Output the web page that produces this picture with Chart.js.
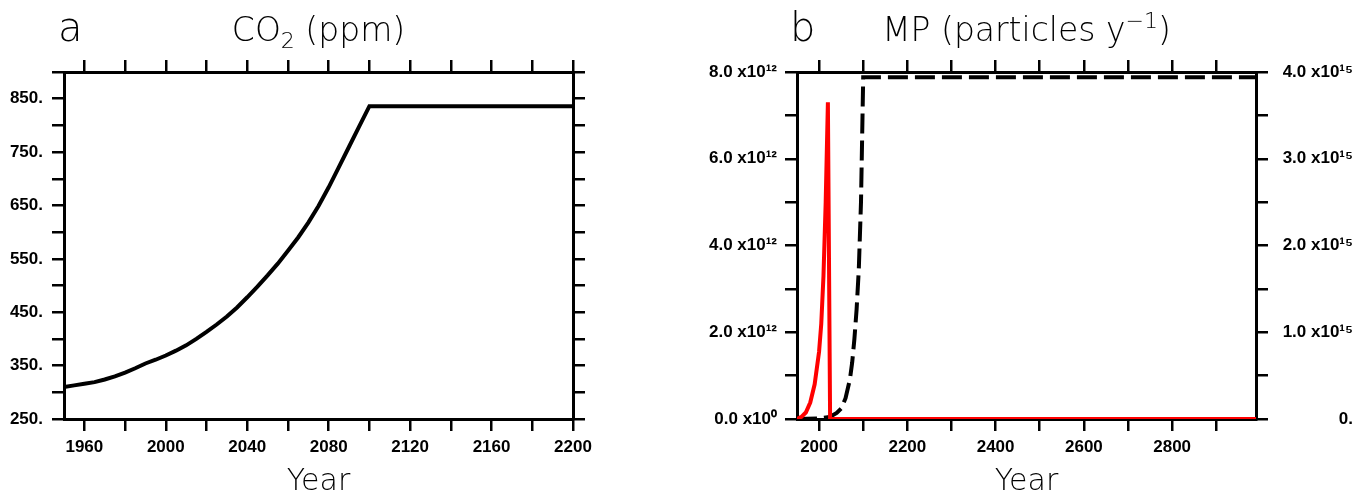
<!DOCTYPE html>
<html>
<head>
<meta charset="utf-8">
<script src="https://cdn.jsdelivr.net/npm/chart.js@4"></script>
<style>
  html, body { margin: 0; padding: 0; background: #fff; }
  #wrap { position: relative; width: 1369px; height: 498px; }
  canvas { position: absolute; top: 0; }
  #co2Chart { left: 0; }
  #mpChart { left: 684px; }
</style>
</head>
<body>
<div id="wrap">
  <canvas id="co2Chart" width="684" height="498"></canvas>
  <canvas id="mpChart" width="685" height="498"></canvas>
</div>
<script>
// panel a: atmospheric CO2
const co2Years = [1950, 1955, 1960, 1965, 1970, 1975, 1980, 1985, 1990, 1995, 2000, 2005, 2010,
  2015, 2020, 2025, 2030, 2035, 2040, 2045, 2050, 2055, 2060, 2065, 2070, 2075, 2080, 2085,
  2090, 2095, 2100, 2200];
const co2Values = [310, 313, 316, 319, 324, 330, 337, 345, 354, 361, 369, 378, 388,
  400, 413, 427, 442, 459, 478, 498, 519, 541, 565, 590, 618, 649, 684, 722,
  760, 798, 836, 836];

const co2YTicks = [250, 300, 350, 400, 450, 500, 550, 600, 650, 700, 750, 800, 850, 900];
const co2YLabels = ['250.', '', '350.', '', '450.', '', '550.', '', '650.', '', '750.', '', '850.', ''];
const co2XTicks = [1960, 1980, 2000, 2020, 2040, 2060, 2080, 2100, 2120, 2140, 2160, 2180, 2200];
const co2XLabels = ['1960', '', '2000', '', '2040', '', '2080', '', '2120', '', '2160', '', '2200'];

// panel b: microplastic emissions (left axis) and cumulative amount (right axis)
const mpYears = [1950, 1960, 1970, 1980, 1990, 2000, 2005, 2010, 2015, 2020, 2025, 2990];
const mpValues = [0, 0.05e12, 0.15e12, 0.38e12, 0.8e12, 1.55e12, 2.2e12, 3.3e12, 5.0e12, 7.3e12, 0, 0];

const cumYears = [1950, 2000, 2020, 2030, 2040, 2050, 2060, 2070, 2075, 2080, 2085, 2090, 2095, 2100, 2990];
const cumValues = [0, 0.005e15, 0.02e15, 0.04e15, 0.07e15, 0.12e15, 0.24e15, 0.46e15, 0.65e15,
  0.92e15, 1.26e15, 1.72e15, 2.5e15, 3.94e15, 3.94e15];

const mpXTicks = [2000, 2100, 2200, 2300, 2400, 2500, 2600, 2700, 2800, 2900];
const mpXLabels = ['2000', '', '2200', '', '2400', '', '2600', '', '2800', ''];
const mpLeftTicks = [0, 1e12, 2e12, 3e12, 4e12, 5e12, 6e12, 7e12, 8e12];
const mpLeftLabels = ['0.0 x10\u2070', '', '2.0 x10\u00b9\u00b2', '', '4.0 x10\u00b9\u00b2', '',
  '6.0 x10\u00b9\u00b2', '', '8.0 x10\u00b9\u00b2'];
const mpRightTicks = [0, 0.5e15, 1e15, 1.5e15, 2e15, 2.5e15, 3e15, 3.5e15, 4e15];
const mpRightLabels = ['0.', '', '1.0 x10\u00b9\u2075', '', '2.0 x10\u00b9\u2075', '',
  '3.0 x10\u00b9\u2075', '', '4.0 x10\u00b9\u2075'];

const FONT = 'DejaVu Sans';
const tickFont = {family: 'Liberation Sans', size: 17, weight: 'bold'};

// panel letter plus a centred title that may carry sub/superscripts
const panelTitles = {
  id: 'panelTitles',
  afterDraw(chart, args, opts) {
    const {ctx, chartArea} = chart;
    ctx.save();
    ctx.fillStyle = '#000';
    ctx.textBaseline = 'alphabetic';
    ctx.textAlign = 'left';
    ctx.font = `${opts.weight} ${opts.letterSize}px "${FONT}"`;
    ctx.fillText(opts.letter, chartArea.left + opts.letterDx, opts.baseline);

    const pieces = opts.pieces.map(p => ({
      text: p.text,
      shift: p.shift,
      font: `${opts.weight} ${p.shift ? opts.smallSize : opts.size}px "${FONT}"`
    }));
    let total = 0;
    pieces.forEach(p => {
      ctx.font = p.font;
      p.w = ctx.measureText(p.text).width;
      total += p.w;
    });
    let x = (chartArea.left + chartArea.right) / 2 - total / 2;
    pieces.forEach(p => {
      ctx.font = p.font;
      ctx.fillText(p.text, x, opts.baseline + p.shift);
      x += p.w;
    });
    ctx.restore();
  }
};

function fixedTicks(values) {
  return scale => {
    scale.ticks = values.map(v => ({value: v}));
  };
}

function axisStyle(extra) {
  return Object.assign({
    grid: {drawOnChartArea: false, color: '#000', lineWidth: 2.5, tickLength: 12},
    border: {display: true, color: '#000', width: 3}
  }, extra);
}

const yearTitle = {display: true, text: 'Year', color: '#000',
  font: {family: FONT, size: 30, weight: 300, lineHeight: 1}, padding: {top: 0, bottom: 1}};

const co2Ctx = document.getElementById('co2Chart');
new Chart(co2Ctx, {
  type: 'line',
  data: {
    datasets: [{
      data: co2Years.map((y, i) => ({x: y, y: co2Values[i]})),
      borderColor: '#000',
      borderWidth: 4,
      pointRadius: 0,
      tension: 0
    }]
  },
  options: {
    responsive: false,
    animation: false,
    devicePixelRatio: 1,
    layout: {padding: 0},
    plugins: {
      legend: {display: false},
      tooltip: {enabled: false},
      panelTitles: {
        letter: 'a', letterSize: 40, letterDx: -6, baseline: 41, weight: 300,
        size: 33, smallSize: 22,
        pieces: [{text: 'CO', shift: 0}, {text: '2', shift: 7}, {text: ' (ppm)', shift: 0}]
      }
    },
    scales: {
      x: axisStyle({
        type: 'linear', position: 'bottom', min: 1950, max: 2200,
        afterBuildTicks: fixedTicks(co2XTicks),
        afterFit: s => { s.height = 79; },
        ticks: {
          autoSkip: false, maxRotation: 0, padding: 6, color: '#000', font: tickFont,
          callback: (v, i) => co2XLabels[i]
        },
        title: yearTitle
      }),
      xTop: axisStyle({
        type: 'linear', position: 'top', min: 1950, max: 2200,
        afterBuildTicks: fixedTicks(co2XTicks),
        afterFit: s => { s.height = 72; },
        ticks: {autoSkip: false, maxRotation: 0, callback: () => ''}
      }),
      y: axisStyle({
        type: 'linear', position: 'left', min: 250, max: 900,
        afterBuildTicks: fixedTicks(co2YTicks),
        afterFit: s => { s.width = 64; },
        ticks: {
          autoSkip: false, padding: 9, color: '#000', font: tickFont,
          callback: (v, i) => co2YLabels[i]
        }
      }),
      yRight: axisStyle({
        type: 'linear', position: 'right', min: 250, max: 900,
        afterBuildTicks: fixedTicks(co2YTicks),
        afterFit: s => { s.width = 111; },
        ticks: {autoSkip: false, callback: () => ''}
      })
    }
  },
  plugins: [panelTitles]
});

const mpCtx = document.getElementById('mpChart');
new Chart(mpCtx, {
  type: 'line',
  data: {
    datasets: [{
      data: mpYears.map((y, i) => ({x: y, y: mpValues[i]})),
      yAxisID: 'y',
      borderColor: '#ff0000',
      borderWidth: 4,
      pointRadius: 0,
      tension: 0
    }, {
      data: cumYears.map((y, i) => ({x: y, y: cumValues[i]})),
      yAxisID: 'y2',
      borderColor: '#000',
      borderWidth: 4,
      borderDash: [20, 7],
      pointRadius: 0,
      tension: 0
    }]
  },
  options: {
    responsive: false,
    animation: false,
    devicePixelRatio: 1,
    // right-axis labels are right-aligned to the axis edge, so pull that edge in
    layout: {padding: {right: 16}},
    plugins: {
      legend: {display: false},
      tooltip: {enabled: false},
      panelTitles: {
        letter: 'b', letterSize: 40, letterDx: -7, baseline: 41, weight: 300,
        size: 33, smallSize: 22,
        pieces: [{text: 'MP (particles y', shift: 0}, {text: '\u22121', shift: -13}, {text: ')', shift: 0}]
      }
    },
    scales: {
      x: axisStyle({
        type: 'linear', position: 'bottom', min: 1950, max: 2990,
        afterBuildTicks: fixedTicks(mpXTicks),
        afterFit: s => { s.height = 79; },
        ticks: {
          autoSkip: false, maxRotation: 0, padding: 6, color: '#000', font: tickFont,
          callback: (v, i) => mpXLabels[i]
        },
        title: yearTitle
      }),
      xTop: axisStyle({
        type: 'linear', position: 'top', min: 1950, max: 2990,
        afterBuildTicks: fixedTicks(mpXTicks),
        afterFit: s => { s.height = 72; },
        ticks: {autoSkip: false, maxRotation: 0, callback: () => ''}
      }),
      y: axisStyle({
        type: 'linear', position: 'left', min: 0, max: 8e12,
        afterBuildTicks: fixedTicks(mpLeftTicks),
        afterFit: s => { s.width = 113; },
        ticks: {
          autoSkip: false, padding: 8, color: '#000', font: tickFont,
          callback: (v, i) => mpLeftLabels[i]
        }
      }),
      y2: axisStyle({
        type: 'linear', position: 'right', min: 0, max: 4e15,
        afterBuildTicks: fixedTicks(mpRightTicks),
        afterFit: s => { s.width = 97; },
        ticks: {
          autoSkip: false, padding: 9, crossAlign: 'far', color: '#000', font: tickFont,
          callback: (v, i) => mpRightLabels[i]
        }
      })
    }
  },
  plugins: [panelTitles]
});
</script>
</body>
</html>
